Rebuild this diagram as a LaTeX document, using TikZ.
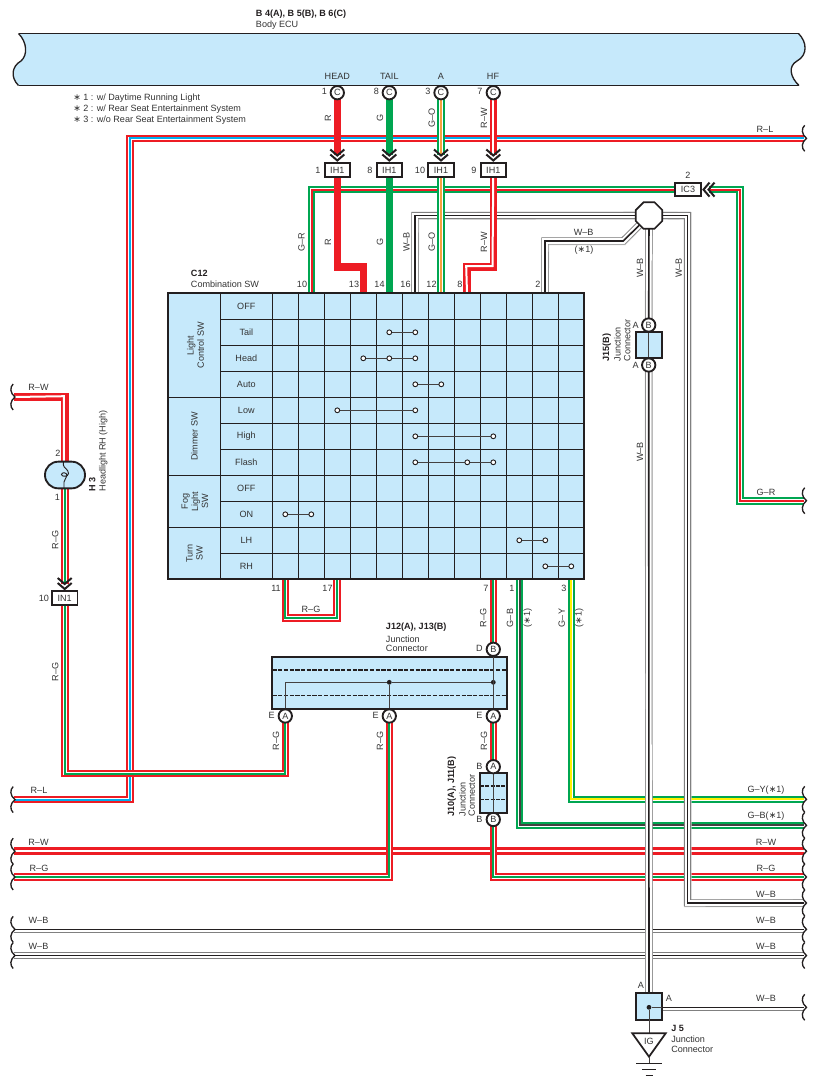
\documentclass[tikz,border=0pt]{standalone}
\usepackage{fontspec}
\setmainfont{Liberation Sans}
\newfontfamily\dvfont{DejaVu Sans}
\newcommand\stx{{\dvfont ∗}}
\usetikzlibrary{shapes.geometric}
\pgfdeclarelayer{wires}
\pgfsetlayers{wires,main}
\definecolor{wred}{HTML}{ED1C24}
\definecolor{wgreen}{HTML}{00A651}
\definecolor{wcyan}{HTML}{00AEEF}
\definecolor{wyellow}{HTML}{FFF200}
\definecolor{worange}{HTML}{F7A13D}
\definecolor{panel}{HTML}{C6E9FB}
\definecolor{ink}{HTML}{231F20}
\definecolor{txt}{HTML}{333333}
\tikzset{
  lab/.style={inner sep=0pt,font=\fontsize{6.8}{7.6}\selectfont,text=txt,align=left},
  boldlab/.style={lab,font=\fontsize{6.8}{7.6}\selectfont\bfseries,text=ink},
  vlab/.style={lab,rotate=90},
  pinc/.style={circle,draw=ink,fill=white,line width=1.4pt,minimum size=10pt,inner sep=0pt,font=\fontsize{6.8}{7}\selectfont,text=txt},
  inlinebox/.style={rectangle,draw=ink,fill=white,line width=1.3pt,minimum width=19pt,minimum height=10pt,inner sep=0pt,font=\fontsize{6.8}{7}\selectfont,text=txt},
  panelbox/.style={rectangle,draw=ink,fill=panel,line width=1.4pt,inner sep=0pt},
  gridl/.style={draw=ink,line width=0.85pt},
  innerl/.style={draw=ink!85,line width=0.75pt},
  chev/.style={draw=ink,line width=1.5pt,fill=none},
  brk/.style={draw=ink,line width=1pt,fill=none},
  cdot/.style={circle,draw=ink,fill=white,line width=0.7pt,minimum size=3.6pt,inner sep=0pt},
  jdot/.style={circle,fill=ink,minimum size=3.6pt,inner sep=0pt},
}
% tri-colour wire: outer colour, stripe colour, path
\newcommand\wireS[3]{%
  \draw[draw=#1,line width=5.7pt] #3;
  \draw[draw=white,line width=2.7pt] #3;
  \draw[draw=#2,line width=1.5pt] #3;}
% two-colour wire with a white stripe set up and left of centre
\newcommand\wireW[1]{%
  \draw[draw=wred,line width=5.7pt] #1;
  \draw[draw=white,line width=1.5pt,xshift=-0.6pt,yshift=0.6pt] #1;}
% W-B wire
\newcommand\wireB[1]{%
  \draw[draw=black!22,line width=5.7pt,xshift=0.3pt,yshift=-0.3pt] #1;
  \draw[draw=black!50,line width=5.4pt,xshift=-0.1pt,yshift=0.1pt] #1;
  \draw[draw=white,line width=4.3pt] #1;
  \draw[draw=ink,line width=1.2pt] #1;}
\newcommand\wireT[2]{\draw[draw=#1,line width=5.4pt] #2;}
\newcommand\wbreak[2]{%
  \draw[brk] (#1+1.2,#2-13) .. controls (#1-2.2,#2-10) and (#1-2.2,#2-4) .. (#1+3,#2) .. controls (#1-2.2,#2+4) and (#1-2.2,#2+10) .. (#1+1.2,#2+13);}
\newcommand\chevD[2]{%
  \draw[chev] (#1-7,#2-6) -- (#1,#2) -- (#1+7,#2-6) (#1-7,#2-1) -- (#1,#2+5) -- (#1+7,#2-1);}
\newcommand\chevL[2]{%
  \draw[chev] (#1+6,#2-7) -- (#1,#2) -- (#1+6,#2+7) (#1+11,#2-7) -- (#1+5,#2) -- (#1+11,#2+7);}
\begin{document}
\begin{tikzpicture}[x=0.75pt,y=-0.75pt]
\useasboundingbox (0,0) rectangle (817,1086);

% Body ECU
\draw[fill=panel,draw=none] (18.5,33.5) .. controls (27,42) and (28,55) .. (21,61) .. controls (12,66) and (10,77) .. (18.5,85.5) -- (799,85.5) .. controls (790,77) and (788,66) .. (797,61) .. controls (808,55) and (807,42) .. (798.5,33.5) -- cycle;
\draw[ink,line width=1.2pt] (18.5,33.5) -- (798.5,33.5);
\draw[ink,line width=1pt] (18.5,85.5) -- (799,85.5);
\draw[ink,line width=1pt] (18.5,33.5) .. controls (27,42) and (28,55) .. (21,61) .. controls (12,66) and (10,77) .. (18.5,85.5);
\draw[ink,line width=1pt] (799,85.5) .. controls (790,77) and (788,66) .. (797,61) .. controls (808,55) and (807,42) .. (798.5,33.5);
\node[boldlab,anchor=west] (ecuid) at (255.7,13.7) {B 4(A), B 5(B), B 6(C)};
\node[lab,anchor=west] (ecuname) at (255.7,25) {Body ECU};
\node[lab] (thead) at (337.3,76.5) {HEAD};
\node[lab] (ttail) at (389.3,76.5) {TAIL};
\node[lab] (ta) at (441,76.5) {A};
\node[lab] (thf) at (493,76.5) {HF};

% Notes
\node[lab,anchor=west] (note1) at (73,98.5) {\stx{} 1 : w/ Daytime Running Light};
\node[lab,anchor=west] (note2) at (73,109.3) {\stx{} 2 : w/ Rear Seat Entertainment System};
\node[lab,anchor=west] (note3) at (73,120) {\stx{} 3 : w/o Rear Seat Entertainment System};

% Pins at the ECU
\node[pinc] (ph) at (337.3,92.7) {C};
\node[pinc] (pt) at (389.3,92.7) {C};
\node[pinc] (pa) at (441,92.7) {C};
\node[pinc] (pf) at (493.3,92.7) {C};
\node[lab] (l1) at (324.5,91) {1};
\node[lab] (l8) at (376.5,91) {8};
\node[lab] (l3) at (428,91) {3};
\node[lab] (l7) at (480,91) {7};

% In-line connectors
\node[inlinebox] (ih1) at (337.3,170) {IH1};
\node[inlinebox] (ih2) at (389.3,170) {IH1};
\node[inlinebox] (ih3) at (441,170) {IH1};
\node[inlinebox] (ih4) at (493.3,170) {IH1};
\node[lab] (li1) at (318,170) {1};
\node[lab] (li2) at (370,170) {8};
\node[lab] (li3) at (420,170) {10};
\node[lab] (li4) at (474,170) {9};
\node[inlinebox] (ic3) at (688,189.6) {IC3};
\node[lab] (lic) at (688,175) {2};
\node[inlinebox] (in1) at (64.7,598) {IN1};
\node[lab] (lin) at (44,598) {10};

% Octagon splice
\node[regular polygon,regular polygon sides=8,minimum size=21.5pt,inner sep=0pt,draw=ink,fill=white,line width=1.3pt] (oct) at (649,215.5) {};

% Table
\coordinate (t10) at (311.5,293.3);
\coordinate (t13) at (363.5,293.3);
\coordinate (t14) at (389.3,293.3);
\coordinate (t16) at (415,293.3);
\coordinate (t12) at (441,293.3);
\coordinate (t8) at (467,293.3);
\coordinate (t2) at (545,293.3);
\coordinate (b11) at (285.3,579);
\coordinate (b17) at (337.2,579);
\coordinate (b7) at (493.3,579);
\coordinate (b1) at (519.6,579);
\coordinate (b3) at (571.4,579);
\fill[panel] (168.3,293.3) rectangle (584.3,579.3);
\foreach \k in {1,...,10}{\draw[gridl] (220.3,293.3+26*\k) -- (584.3,293.3+26*\k);}
\foreach \k in {4,7,9}{\draw[gridl] (168.3,293.3+26*\k) -- (220.3,293.3+26*\k);}
\draw[gridl] (220.3,293.3) -- (220.3,579.3);
\foreach \k in {0,...,11}{\draw[gridl] (272.3+26*\k,293.3) -- (272.3+26*\k,579.3);}
\draw[ink,line width=1.4pt] (168.3,293.3) rectangle (584.3,579.3);
\foreach \t [count=\i from 0] in {OFF,Tail,Head,Auto,Low,High,Flash,OFF,ON,LH,RH}{
  \node[lab] (row\i) at (246.3,306.3+26*\i) {\t};}
\node[lab,rotate=90,align=center] (gl) at (195.5,345.3) {\fontsize{6.8}{8.7}\selectfont Light\\Control SW};
\node[lab,rotate=90] (gd) at (194.5,436.3) {Dimmer SW};
\node[lab,rotate=90,align=center] (gf) at (195,501.3) {\fontsize{6.8}{8.7}\selectfont Fog\\Light\\SW};
\node[lab,rotate=90,align=center] (gt) at (194.5,553.3) {\fontsize{6.8}{8.7}\selectfont Turn\\SW};
% switch contacts
\newcommand\contacts[3]{%
  \draw[innerl] (#2,306.3+26*#1) -- (#3,306.3+26*#1);}
\contacts{1}{389.3}{415.3}
\contacts{2}{363.3}{415.3}
\contacts{3}{415.3}{441.3}
\contacts{4}{337.3}{415.3}
\contacts{5}{415.3}{493.3}
\contacts{6}{415.3}{493.3}
\contacts{8}{285.3}{311.3}
\contacts{9}{519.3}{545.3}
\contacts{10}{545.3}{571.3}
\foreach \r/\c in {1/389.3,1/415.3,2/363.3,2/389.3,2/415.3,3/415.3,3/441.3,4/337.3,4/415.3,5/415.3,5/493.3,6/415.3,6/467.3,6/493.3,8/285.3,8/311.3,9/519.3,9/545.3,10/545.3,10/571.3}{
  \node[cdot] at (\c,306.3+26*\r) {};}

% Pin numbers on the switch
\node[lab] (n10) at (302,284.3) {10};
\node[lab] (n13) at (354,284.3) {13};
\node[lab] (n14) at (379.5,284.3) {14};
\node[lab] (n16) at (405.5,284.3) {16};
\node[lab] (n12) at (431.5,284.3) {12};
\node[lab] (n8) at (460,284.3) {8};
\node[lab] (n2) at (538,284.3) {2};
\node[lab] (n11) at (276,588.5) {11};
\node[lab] (n17) at (327.5,588.5) {17};
\node[lab] (n7) at (486,588.5) {7};
\node[lab] (n1b) at (512,588.5) {1};
\node[lab] (n3b) at (564,588.5) {3};
\node[boldlab,anchor=west] (c12) at (190.7,273.3) {C12};
\node[lab,anchor=west] (c12n) at (190.7,284.3) {Combination SW};

% Big junction connector
\node[panelbox,minimum width=175.8pt,minimum height=39.3pt] (jbig) at (389.5,682.9) {};
\draw[ink,line width=0.9pt,dash pattern=on 3.2pt off 1.1pt] (272.3,670) -- (506.7,670) (272.3,695.7) -- (506.7,695.7);
\node[pinc] (ea1) at (285.3,716) {A};
\node[pinc] (ea2) at (389.3,716) {A};
\node[pinc] (ea3) at (493.3,716) {A};
\node[pinc] (db) at (493.3,649.3) {B};
\node[jdot] (j1) at (389.3,682.3) {};
\node[jdot] (j2) at (493.3,682.3) {};
\draw[innerl] (ea1) -- (285.3,682.3) -- (j1) -- (j2);
\draw[innerl] (j1) -- (ea2);
\draw[innerl] (db) -- (ea3);
\node[lab] (le1) at (271.7,715) {E};
\node[lab] (le2) at (375.7,715) {E};
\node[lab] (le3) at (479.3,715) {E};
\node[lab] (ld) at (479.3,648.7) {D};
\node[boldlab,anchor=west] (jb1) at (385.7,627) {J12(A), J13(B)};
\node[lab,anchor=west] (jb2) at (385.7,639) {Junction};
\node[lab,anchor=west] (jb3) at (385.7,648.7) {Connector};

% J10 connector
\node[panelbox,minimum width=20pt,minimum height=30pt] (j10) at (493.3,793.3) {};
\draw[ink,line width=0.8pt,dash pattern=on 3pt off 1pt] (480,786) -- (506.7,786) (480,799.5) -- (506.7,799.5);
\node[pinc] (ja) at (493.3,766.7) {A};
\node[pinc] (jbb) at (493.3,819.5) {B};
\draw[innerl] (ja) -- (jbb);
\node[lab] (lja) at (479.3,766) {B};
\node[lab] (ljb) at (479.3,819.3) {B};
\node[boldlab,rotate=90,anchor=west] (j10a) at (451.7,816.7) {J10(A), J11(B)};
\node[lab,rotate=90,anchor=west] (j10b) at (462.5,816.7) {Junction};
\node[lab,rotate=90,anchor=west] (j10c) at (471.7,816.7) {Connector};

% J15 connector
\node[panelbox,minimum width=20pt,minimum height=20pt] (j15) at (649,345) {};
\node[pinc] (j15a) at (648.7,325) {B};
\node[pinc] (j15b) at (648.7,365) {B};
\draw[innerl] (j15a) -- (j15b);
\node[lab] (lj15a) at (635.7,325) {A};
\node[lab] (lj15b) at (635.7,365) {A};
\node[boldlab,rotate=90,anchor=west] (j15n) at (606.7,361.7) {J15(B)};
\node[lab,rotate=90,anchor=west] (j15o) at (617.5,361.7) {Junction};
\node[lab,rotate=90,anchor=west] (j15p) at (627.3,361.7) {Connector};

% Headlight
\node[panelbox,rounded corners=9.9pt,minimum width=30pt,minimum height=20pt] (h3) at (65,475) {};
\draw[ink,line width=0.7pt] (63.4,461.7) -- (63.4,465) .. controls (63.4,468) and (68.5,469) .. (68.5,473.5) .. controls (68.5,477) and (61.5,477) .. (61.5,474.5) .. controls (61.5,472) and (67,472) .. (67,475.5) .. controls (67,478) and (64,479) .. (64,482) -- (64,488.3);
\node[lab] (h2) at (58,453.5) {2};
\node[lab] (h1) at (57.5,497) {1};
\node[boldlab,rotate=90,anchor=west] (h3a) at (92.3,491.7) {H 3};
\node[lab,rotate=90,anchor=west] (h3b) at (103.3,491.7) {Headlight RH (High)};

% J5 and ground
\node[panelbox,minimum width=20pt,minimum height=20pt] (j5) at (649,1006.7) {};
\node[jdot] (j5d) at (649,1007.3) {};
\draw[innerl] (j5d) -- (662.3,1007.3);
\node[lab] (j5al) at (641,985) {A};
\node[lab] (j5ar) at (669,998) {A};
\coordinate (gtip) at (649,1056.7);
\draw[innerl] (j5d) -- (649,1033.3);
\draw[ink,line width=1.3pt,fill=white,line join=miter] (632.3,1033.3) -- (665.7,1033.3) -- (gtip) -- cycle;
\node[lab] (ig) at (649,1041.5) {IG};
\draw[innerl] (gtip) -- (649,1063.3);
\draw[ink,line width=0.8pt] (636,1063.3) -- (662,1063.3) (642,1069.3) -- (656,1069.3);
\draw[ink,line width=1pt] (645.5,1075.5) -- (652.5,1075.5);
\node[boldlab,anchor=west] (j5a) at (671,1028) {J 5};
\node[lab,anchor=west] (j5b) at (671,1039.5) {Junction};
\node[lab,anchor=west] (j5c) at (671,1049) {Connector};

% Wire end points
\coordinate (rlL) at (14,799.6);  \coordinate (rlR) at (804,138.3);
\coordinate (gyR) at (804,799.3); \coordinate (gbR) at (804,825.3);
\coordinate (rwL) at (14,851.2);  \coordinate (rwR) at (804,851.2);
\coordinate (rgL) at (14,877);    \coordinate (rgR) at (804,877);
\coordinate (wb1L) at (14,929.3); \coordinate (wb1R) at (804,929.3);
\coordinate (wb2L) at (14,955.5); \coordinate (wb2R) at (804,955.5);
\coordinate (wb3R) at (804,903);  \coordinate (wb4R) at (804,1007.3);
\coordinate (grR) at (804,500.7); \coordinate (hrw) at (14,397);
% where wires stop at the chevrons
\coordinate (c1) at (337.3,155);
\coordinate (c2) at (389.3,155);
\coordinate (c3) at (441,155);
\coordinate (c4) at (493.3,155);
\coordinate (c5) at (64.7,583.5);
\coordinate (c6) at (709,189.6);

\begin{pgfonlayer}{wires}
% horizontals first
\wireS{wred}{wcyan}{(rlR) -- (130,138.3) -- (130,799.6) -- (rlL)}
\wireS{wgreen}{wred}{(t10) -- (311.5,189.6) -- (ic3.center)}
\wireS{wgreen}{wred}{(c6) -- (740,189.6) -- (740,500.7) -- (grR)}
\wireW{(rwL) -- (rwR)}
\wireS{wred}{wgreen}{(rgL) -- (389.3,877) -- (ea2.center)}
\wireS{wred}{wgreen}{(ea1.center) -- (285.3,773.5) -- (64.7,773.5) -- (in1.center)}
\wireS{wred}{wgreen}{(c5) -- (64.7,488)}
\wireS{wred}{wgreen}{(rgR) -- (493.3,877) -- (jbb.center)}
\wireS{wred}{wgreen}{(ja.center) -- (ea3.center)}
\wireS{wred}{wgreen}{(db.center) -- (b7)}
\wireS{wred}{wgreen}{(b11) -- (285.3,617.7) -- (337.2,617.7) -- (b17)}
\wireB{(wb1L) -- (wb1R)}
\wireB{(wb2L) -- (wb2R)}
\wireB{(j5d) -- (wb4R)}
\wireS{wgreen}{ink!85}{(b1) -- (519.6,825.3) -- (gbR)}
\wireS{wgreen}{wyellow}{(b3) -- (571.4,799.3) -- (gyR)}
\wireB{(oct.center) -- (687.5,215.5) -- (687.5,903) -- (wb3R)}
\wireB{(t16) -- (415,215.5) -- (oct.center)}
\wireB{(t2) -- (545,241) -- (623.3,241) -- (oct.center)}
\wireB{(oct.center) -- (j15a.center)}
\wireB{(j15b.center) -- (j5d)}
\wireW{(hrw) -- (64.7,397) -- (64.7,470)}
\wireT{wred}{(ph.center) -- (c1)}
\wireT{wred}{(ih1.center) -- (337.3,267) -- (363.5,267) -- (t13)}
\wireT{wgreen}{(pt.center) -- (c2)}
\wireT{wgreen}{(ih2.center) -- (t14)}
\wireS{wgreen}{worange}{(pa.center) -- (c3)}
\wireS{wgreen}{worange}{(ih3.center) -- (t12)}
\wireW{(pf.center) -- (c4)}
\wireW{(ih4.center) -- (493.3,267) -- (467,267) -- (t8)}
\end{pgfonlayer}

% Chevrons
\chevD{337.3}{155.5}
\chevD{389.3}{155.5}
\chevD{441}{155.5}
\chevD{493.3}{155.5}
\chevD{64.7}{584}
\chevL{703.5}{189.6}

% Wire breaks
\foreach \y in {397,799.6,851.2,877,929.3,955.5}{\wbreak{12}{\y}}
\foreach \y in {138.3,500.7,799.3,825.3,851.2,877,903,929.3,955.5,1007.3}{\wbreak{803.5}{\y}}

% Wire labels
\node[lab] (a1) at (39,790) {R–L};
\node[lab] (a2) at (765,129) {R–L};
\node[lab] (a3) at (38.5,387) {R–W};
\node[lab] (a4) at (38.5,842) {R–W};
\node[lab] (a5) at (39,868) {R–G};
\node[lab] (a6) at (38.5,920) {W–B};
\node[lab] (a7) at (38.5,946) {W–B};
\node[lab] (a8) at (766,492) {G–R};
\node[lab] (a9) at (766,790) {G–Y(\stx1)};
\node[lab] (a10) at (766,816) {G–B(\stx1)};
\node[lab] (a11) at (766,842) {R–W};
\node[lab] (a12) at (766,868) {R–G};
\node[lab] (a13) at (766,894) {W–B};
\node[lab] (a14) at (766,920) {W–B};
\node[lab] (a15) at (766,946) {W–B};
\node[lab] (a16) at (766,998) {W–B};
\node[lab] (a17) at (311,609) {R–G};
\node[lab] (a18) at (583.7,232) {W–B};
\node[lab] (a19) at (584,250) {(\stx1)};
\node[vlab] (v1) at (328,118) {R};
\node[vlab] (v2) at (380,118) {G};
\node[vlab] (v3) at (431.7,118) {G–O};
\node[vlab] (v4) at (484,118) {R–W};
\node[vlab] (v5) at (301.5,242) {G–R};
\node[vlab] (v6) at (328,242) {R};
\node[vlab] (v7) at (380,242) {G};
\node[vlab] (v8) at (406.5,242) {W–B};
\node[vlab] (v9) at (431.7,242) {G–O};
\node[vlab] (v10) at (484,242) {R–W};
\node[vlab] (v11) at (640,268) {W–B};
\node[vlab] (v12) at (678.7,268) {W–B};
\node[vlab] (v13) at (640,452) {W–B};
\node[vlab] (v14) at (55.3,540) {R–G};
\node[vlab] (v15) at (55.3,672) {R–G};
\node[vlab] (v16) at (483.3,618) {R–G};
\node[vlab] (v17) at (510,618) {G–B};
\node[vlab] (v18) at (527.7,618) {(\stx1)};
\node[vlab] (v19) at (561.7,618) {G–Y};
\node[vlab] (v20) at (579.3,618) {(\stx1)};
\node[vlab] (v21) at (276,740.7) {R–G};
\node[vlab] (v22) at (380,740.7) {R–G};
\node[vlab] (v23) at (484,740.7) {R–G};
\end{tikzpicture}
\end{document}
